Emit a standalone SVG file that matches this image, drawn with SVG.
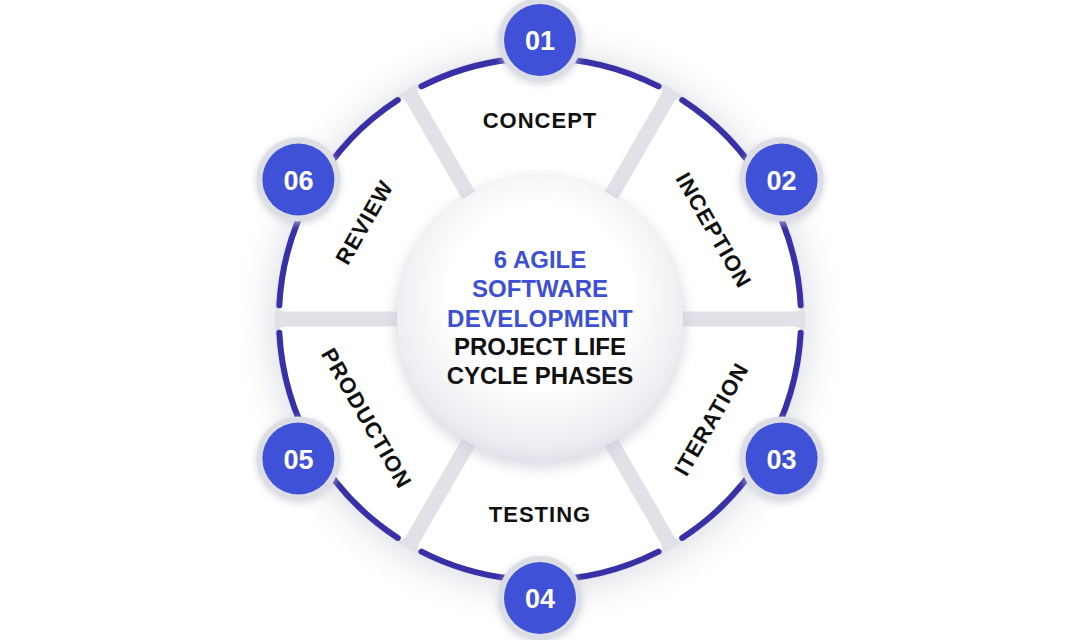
<svg xmlns="http://www.w3.org/2000/svg" width="1080" height="640" viewBox="0 0 1080 640">
<defs>
<style>
.seg{fill:#fff;stroke:#fff;stroke-width:16;stroke-linejoin:round}
.arc{fill:none;stroke:#3830a6;stroke-width:6;stroke-linecap:round}
.ring{fill:#dddee5}
.num{fill:#3f51d6}
.nt{font-family:"Liberation Sans",Arial,sans-serif;font-weight:700;font-size:27px;fill:#fff;text-anchor:middle}
.lbl{font-family:"Liberation Sans",Arial,sans-serif;font-weight:700;font-size:22px;letter-spacing:1px;fill:#111;text-anchor:middle}
.title{font-family:"Liberation Sans",Arial,sans-serif;font-weight:700;font-size:24px;text-anchor:middle}
</style>
<filter id="blurBig" x="-30%" y="-30%" width="160%" height="160%"><feGaussianBlur stdDeviation="16"/></filter>
<filter id="blurSm" x="-30%" y="-30%" width="160%" height="160%"><feGaussianBlur stdDeviation="6"/></filter>
<filter id="blurXs" x="-30%" y="-30%" width="160%" height="160%"><feGaussianBlur stdDeviation="3"/></filter>
<radialGradient id="cg" cx="50%" cy="42%" r="58%">
<stop offset="0.55" stop-color="#ffffff"/>
<stop offset="0.9" stop-color="#ededf2"/>
<stop offset="1" stop-color="#e2e3ea"/>
</radialGradient>
<path id="segp" class="seg" d="M 426.16 90.83 A 255 255 0 0 1 653.84 90.83 L 592.63 196.86 A 133 133 0 0 0 487.37 196.86 Z"/>
<path id="arcp" class="arc" d="M 421.5 86.4 A 261 261 0 0 1 658.5 86.4"/>
</defs>
<rect width="1080" height="640" fill="#ffffff"/>
<g id="base">
<circle cx="540" cy="322" r="272" fill="#b9bbc9" opacity="0.4" filter="url(#blurBig)"/>
<circle cx="540" cy="319" r="265" fill="#e1e2e8"/>
</g>
<g id="node-concept">
<use href="#segp"/>
<use href="#arcp"/>
<text class="lbl" x="540" y="128">CONCEPT</text>
</g>
<g id="node-inception">
<use href="#segp" transform="rotate(60 540 319)"/>
<use href="#arcp" transform="rotate(60 540 319)"/>
<text class="lbl" transform="translate(714 230) rotate(60)" y="8">INCEPTION</text>
</g>
<g id="node-iteration">
<use href="#segp" transform="rotate(120 540 319)"/>
<use href="#arcp" transform="rotate(120 540 319)"/>
<text class="lbl" transform="translate(711 419) rotate(-60)" y="8">ITERATION</text>
</g>
<g id="node-testing">
<use href="#segp" transform="rotate(180 540 319)"/>
<use href="#arcp" transform="rotate(180 540 319)"/>
<text class="lbl" x="540" y="522">TESTING</text>
</g>
<g id="node-production">
<use href="#segp" transform="rotate(240 540 319)"/>
<use href="#arcp" transform="rotate(240 540 319)"/>
<text class="lbl" transform="translate(367 418) rotate(60)" y="8">PRODUCTION</text>
</g>
<g id="node-review">
<use href="#segp" transform="rotate(300 540 319)"/>
<use href="#arcp" transform="rotate(300 540 319)"/>
<text class="lbl" transform="translate(364 222) rotate(-60)" y="8">REVIEW</text>
</g>
<g id="center">
<circle cx="540" cy="323" r="146" fill="#c4c6d2" opacity="0.55" filter="url(#blurSm)"/>
<circle cx="540" cy="319" r="143" fill="url(#cg)"/>
<text class="title" x="540" y="268" fill="#3d50d4">6 AGILE</text>
<text class="title" x="540" y="297" fill="#3d50d4">SOFTWARE</text>
<text class="title" x="540" y="327" fill="#3d50d4" letter-spacing="0.3">DEVELOPMENT</text>
<text class="title" x="540" y="355" fill="#111111">PROJECT LIFE</text>
<text class="title" x="540" y="384" fill="#111111">CYCLE PHASES</text>
</g>
<g id="badge-01">
<circle cx="540" cy="42" r="43" fill="#c9cbd6" opacity="0.6" filter="url(#blurXs)"/>
<circle class="ring" cx="540" cy="40" r="42"/>
<circle class="num" cx="540" cy="40" r="36"/>
<text class="nt" x="540" y="50">01</text>
</g>
<g id="badge-02">
<circle cx="781.6" cy="181.5" r="43" fill="#c9cbd6" opacity="0.6" filter="url(#blurXs)"/>
<circle class="ring" cx="781.6" cy="179.5" r="42"/>
<circle class="num" cx="781.6" cy="179.5" r="36"/>
<text class="nt" x="781.6" y="189.5">02</text>
</g>
<g id="badge-03">
<circle cx="781.6" cy="460.5" r="43" fill="#c9cbd6" opacity="0.6" filter="url(#blurXs)"/>
<circle class="ring" cx="781.6" cy="458.5" r="42"/>
<circle class="num" cx="781.6" cy="458.5" r="36"/>
<text class="nt" x="781.6" y="468.5">03</text>
</g>
<g id="badge-04">
<circle cx="540" cy="600" r="43" fill="#c9cbd6" opacity="0.6" filter="url(#blurXs)"/>
<circle class="ring" cx="540" cy="598" r="42"/>
<circle class="num" cx="540" cy="598" r="36"/>
<text class="nt" x="540" y="608">04</text>
</g>
<g id="badge-05">
<circle cx="298.4" cy="460.5" r="43" fill="#c9cbd6" opacity="0.6" filter="url(#blurXs)"/>
<circle class="ring" cx="298.4" cy="458.5" r="42"/>
<circle class="num" cx="298.4" cy="458.5" r="36"/>
<text class="nt" x="298.4" y="468.5">05</text>
</g>
<g id="badge-06">
<circle cx="298.4" cy="181.5" r="43" fill="#c9cbd6" opacity="0.6" filter="url(#blurXs)"/>
<circle class="ring" cx="298.4" cy="179.5" r="42"/>
<circle class="num" cx="298.4" cy="179.5" r="36"/>
<text class="nt" x="298.4" y="189.5">06</text>
</g>
</svg>
